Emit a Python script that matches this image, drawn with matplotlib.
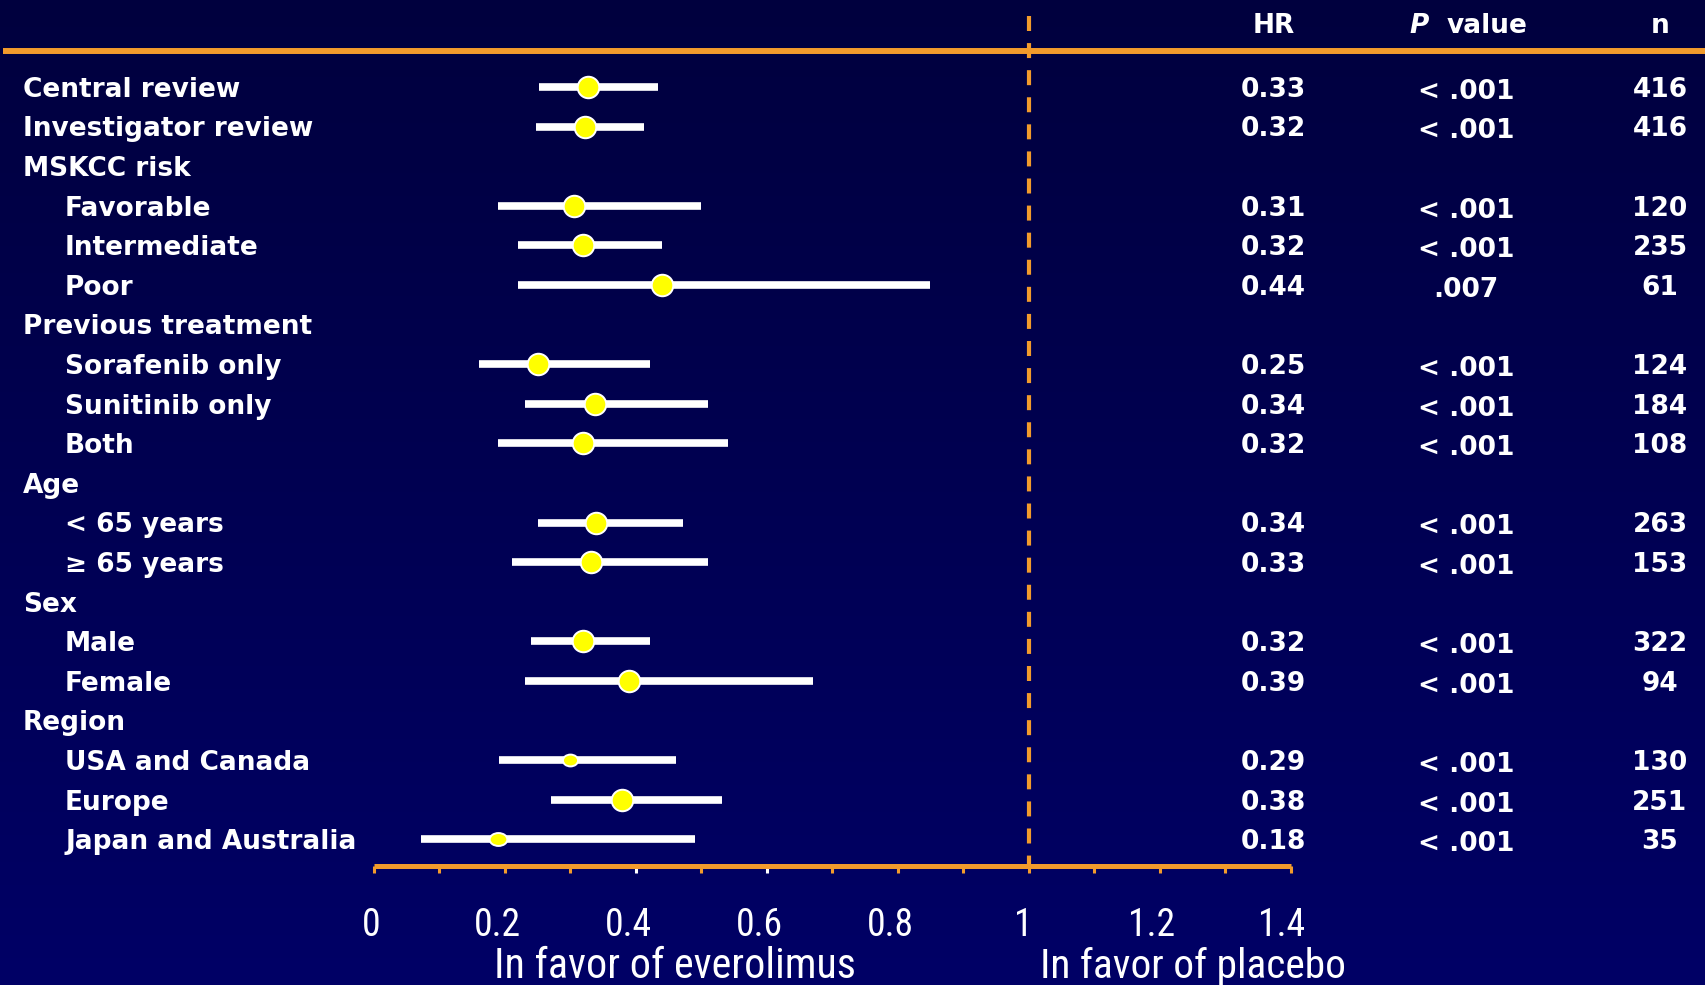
import numpy as np
import matplotlib
matplotlib.use("Agg")
import matplotlib.pyplot as plt
from matplotlib import font_manager as fm
from matplotlib.font_manager import FontProperties
from matplotlib.markers import MarkerStyle
from matplotlib.transforms import Affine2D

# ---------------- data ----------------
labels = ["Central review", "Investigator review", "MSKCC risk", "Favorable",
          "Intermediate", "Poor", "Previous treatment", "Sorafenib only",
          "Sunitinib only", "Both", "Age", "< 65 years", "\u2265 65 years", "Sex",
          "Male", "Female", "Region", "USA and Canada", "Europe",
          "Japan and Australia"]
indent = [0, 0, 0, 1, 1, 1, 0, 1, 1, 1, 0, 1, 1, 0, 1, 1, 0, 1, 1, 1]
nan = np.nan
point_est = [0.326, 0.322, nan, 0.306, 0.319, 0.440, nan, 0.250, 0.338, 0.319,
             nan, 0.339, 0.331, nan, 0.319, 0.389, nan, 0.300, 0.379, 0.190]
ci_low = [0.252, 0.248, nan, 0.190, 0.220, 0.220, nan, 0.160, 0.231, 0.190,
          nan, 0.251, 0.211, nan, 0.240, 0.231, nan, 0.191, 0.270, 0.071]
ci_high = [0.433, 0.412, nan, 0.499, 0.439, 0.849, nan, 0.421, 0.510, 0.540,
           nan, 0.471, 0.510, nan, 0.421, 0.670, nan, 0.461, 0.531, 0.490]
hr_text = ["0.33", "0.32", "", "0.31", "0.32", "0.44", "", "0.25", "0.34", "0.32",
           "", "0.34", "0.33", "", "0.32", "0.39", "", "0.29", "0.38", "0.18"]
p_text = ["< .001", "< .001", "", "< .001", "< .001", ".007", "", "< .001",
          "< .001", "< .001", "", "< .001", "< .001", "", "< .001", "< .001", "",
          "< .001", "< .001", "< .001"]
n_text = ["416", "416", "", "120", "235", "61", "", "124", "184", "108", "",
          "263", "153", "", "322", "94", "", "130", "251", "35"]
tick_major = [0, 0.2, 0.4, 0.6, 0.8, 1, 1.2, 1.4]
tick_major_labels = ["0", "0.2", "0.4", "0.6", "0.8", "1", "1.2", "1.4"]
tick_minor = [0.1, 0.3, 0.5, 0.7, 0.9, 1.1, 1.3]
left_caption = "In favor of everolimus"
right_caption = "In favor of placebo"

# marker shape (style): width/height scale relative to a full circle
marker_sx = [1, 1, 1, 1, 1, 1, 1, 1, 1, 1, 1, 1, 1, 1, 1, 1, 1, 0.70, 1, 0.82]
marker_sy = [1, 1, 1, 1, 1, 1, 1, 1, 1, 1, 1, 1, 1, 1, 1, 1, 1, 0.55, 1, 0.60]
# horizontal nudge (pixels) of each tick label relative to its tick (layout)
tick_label_dx = [-3, -8, -8, -8, -8, -6, -8, -9]

# ---------------- styling ----------------
ORANGE = "#F29B2C"
WHITE = "white"
YELLOW = "#FFFF00"
W, H = 1706, 985
X0_PX, PX_PER_UNIT = 374, 655
ROW0_PX, ROW_PX = 87, 39.6


def xval(px):
    return (px - X0_PX) / PX_PER_UNIT


def yrow(px):
    return (px - ROW0_PX) / ROW_PX


def find_narrow_font():
    prefs = ["Liberation Sans Narrow", "Arial Narrow", "Roboto Condensed",
             "Open Sans Condensed", "Noto Sans Condensed", "DejaVu Sans Condensed"]
    regular = [f for f in fm.fontManager.ttflist
               if f.style == "normal" and (f.weight in (400, "normal", "regular", "book"))]
    for p in prefs:
        for f in regular:
            if f.name == p:
                return f.fname
    for f in regular:
        tag = (f.name + " " + f.fname).lower()
        if ("narrow" in tag or "condensed" in tag) and "mono" not in tag \
                and "serif" not in f.name.lower():
            return f.fname
    for f in regular:
        if f.stretch in ("condensed", "semi-condensed", "extra-condensed") \
                and "mono" not in f.name.lower():
            return f.fname
    return None


narrow_path = find_narrow_font()


def narrow_props(size):
    if narrow_path:
        return FontProperties(fname=narrow_path, size=size)
    return FontProperties(family="Liberation Sans", size=size)


BOLD = dict(family="DejaVu Sans", fontweight="bold", fontsize=19, color=WHITE)

fig = plt.figure(figsize=(W / 100, H / 100), dpi=100)
renderer = fig.canvas.get_renderer()

# background gradient
bg = fig.add_axes([0, 0, 1, 1], zorder=-10)
grad = np.linspace(0, 1, 256)[:, None]
top = np.array([0, 0, 0x3E]) / 255
bot = np.array([0, 0, 0x66]) / 255
img = top[None, None, :] * (1 - grad[..., None]) + bot[None, None, :] * grad[..., None]
bg.imshow(img, aspect="auto", extent=[0, 1, 0, 1], origin="upper")
bg.set_axis_off()

ax = fig.add_axes([0, 0, 1, 1])
ax.set_facecolor("none")
ax.set_xlim(xval(0), xval(W))
ax.set_ylim(yrow(H), yrow(0))
for s in ["top", "left", "right"]:
    ax.spines[s].set_visible(False)

rows = np.arange(len(labels))


def fitted_text(x, y, s, target_w, max_size, **kw):
    t = ax.text(x, y, s, fontproperties=narrow_props(max_size), **kw)
    w = t.get_window_extent(renderer).width
    size = min(max_size, max_size * target_w / w)
    t.set_fontproperties(narrow_props(size))
    return t


# axis line + ticks
ax.spines["bottom"].set_position(("data", yrow(866)))
ax.spines["bottom"].set_bounds(0, 1.4)
ax.spines["bottom"].set_color(ORANGE)
ax.spines["bottom"].set_linewidth(3.6)
ax.spines["bottom"].set_capstyle("butt")
ax.set_yticks([])
ax.set_xticks(tick_major)
ax.set_xticks(tick_minor, minor=True)
ax.set_xticklabels([])
ax.tick_params(axis="x", which="both", direction="out", length=5, width=2.2,
               color=ORANGE)
for t in ax.xaxis.get_major_ticks() + ax.xaxis.get_minor_ticks():
    v = t.get_loc()
    c = WHITE if 0.25 < v < 0.75 else ORANGE
    t.tick1line.set_color(c)
    t.tick1line.set_markeredgecolor(c)

# tick labels sized so that "0.2" is ~47 px wide, digits at most ~29 px tall
probe = ax.text(0, 0, "0.2", fontproperties=narrow_props(30))
pw = probe.get_window_extent(renderer).width
probe.remove()
tick_size = min(30, 30 * 47 / pw)
for v, s, dx in zip(tick_major, tick_major_labels, tick_label_dx):
    ax.text(v + dx / PX_PER_UNIT, yrow(935.5), s, ha="center", va="baseline",
            color=WHITE, fontproperties=narrow_props(tick_size))
fitted_text(xval(494), yrow(978), left_caption, 362, 33, ha="left",
            va="baseline", color=WHITE)
fitted_text(xval(1040), yrow(978), right_caption, 306, 33, ha="left",
            va="baseline", color=WHITE)

# top rule and reference line
ax.hlines(yrow(51), xval(3), xval(W), color=ORANGE, lw=4.3)
ax.vlines(1.0, yrow(16), yrow(866), color=ORANGE, lw=3.0,
          linestyles=(0, (3.6, 2.9)))

# CI bars and point estimates
ci_low_a = np.array(ci_low)
ci_high_a = np.array(ci_high)
ok = ~np.isnan(ci_low_a)
ax.hlines(rows[ok], ci_low_a[ok], ci_high_a[ok], color=WHITE, lw=5.5,
          capstyle="butt", zorder=3)
for r, p, sx, sy in zip(rows, point_est, marker_sx, marker_sy):
    if np.isnan(p):
        continue
    m = MarkerStyle("o", transform=Affine2D().scale(sx, sy))
    ax.plot([p], [r], marker=m, ms=15.5, mfc=YELLOW, mec=WHITE, mew=1.4,
            linestyle="none", zorder=4)

# labels
for r, lab, ind in zip(rows, labels, indent):
    x = xval(65) if ind else xval(23)
    ax.text(x, r + 0.245, lab, ha="left", va="baseline", **BOLD)

# table columns
ax.text(xval(1273.5), yrow(33), "HR", ha="center", va="baseline", **BOLD)
ax.text(xval(1409), yrow(33), "P", ha="left", va="baseline", fontstyle="italic",
        **BOLD)
ax.text(xval(1447), yrow(33), "value", ha="left", va="baseline", **BOLD)
ax.text(xval(1660), yrow(33), "n", ha="center", va="baseline", **BOLD)
for r, h, p, n in zip(rows, hr_text, p_text, n_text):
    if h:
        ax.text(xval(1273.5), r + 0.245, h, ha="center", va="baseline", **BOLD)
        ax.text(xval(1466), r + 0.30, p, ha="center", va="baseline", **BOLD)
        ax.text(xval(1660), r + 0.245, n, ha="center", va="baseline", **BOLD)

fig.savefig("out.png", dpi=100, facecolor=fig.get_facecolor())
